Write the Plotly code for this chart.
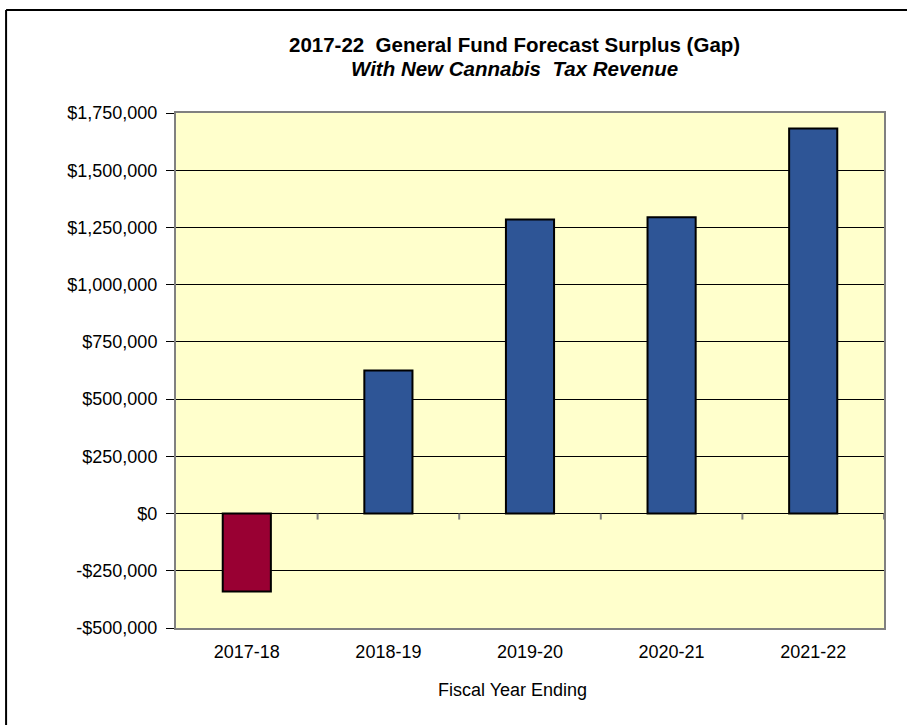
import plotly.graph_objects as go

# Fiscal years and forecast surplus (gap) in dollars
years = ["2017-18", "2018-19", "2019-20", "2020-21", "2021-22"]
surplus = [-341000, 625000, 1285000, 1294000, 1682000]

# Y-axis ticks
y_ticks = [-500000, -250000, 0, 250000, 500000, 750000, 1000000, 1250000, 1500000, 1750000]


def money(v):
    return ("-$" if v < 0 else "$") + f"{abs(v):,.0f}"


y_labels = [money(v) for v in y_ticks]

BLUE = "#2E5596"
RED = "#990033"
bar_colors = [RED if v < 0 else BLUE for v in surplus]

fig = go.Figure(
    go.Bar(
        x=years,
        y=surplus,
        width=0.34,
        marker=dict(color=bar_colors, line=dict(color="#000000", width=2)),
        hoverinfo="x+y",
    )
)

# Small tick marks on the zero line between categories
shapes = []
for i in range(len(years)):
    shapes.append(
        dict(
            type="line",
            xref="x",
            yref="y",
            x0=i + 0.5,
            x1=i + 0.5,
            ysizemode="pixel",
            yanchor=0,
            y0=0,
            y1=-6,
            line=dict(color="#808080", width=2),
        )
    )

# Outer chart frame (left and top edges)
shapes.append(dict(type="line", xref="paper", yref="paper",
                   x0=-0.240, x1=1.2, y0=1.2, y1=1.2,
                   line=dict(color="#000000", width=2)))
shapes.append(dict(type="line", xref="paper", yref="paper",
                   x0=-0.240, x1=-0.240, y0=1.2, y1=-0.3,
                   line=dict(color="#000000", width=2)))

FONT = "Liberation Sans, Arial, sans-serif"

fig.update_layout(
    width=907,
    height=725,
    margin=dict(l=176, r=23, t=113, b=97),
    paper_bgcolor="#FFFFFF",
    plot_bgcolor="#FFFFCC",
    font=dict(family=FONT, size=18, color="#000000"),
    showlegend=False,
    shapes=shapes,
    annotations=[
        dict(
            text="<b>2017-22  General Fund Forecast Surplus (Gap)</b>",
            xref="paper", yref="paper", x=0.5, y=1.0, xshift=-16, yshift=69,
            xanchor="center", yanchor="middle", showarrow=False,
            font=dict(size=20.5, color="#000000"),
        ),
        dict(
            text="<b><i>With New Cannabis  Tax Revenue</i></b>",
            xref="paper", yref="paper", x=0.5, y=1.0, xshift=-16, yshift=45,
            xanchor="center", yanchor="middle", showarrow=False,
            font=dict(size=20.5, color="#000000"),
        ),
        dict(
            text="Fiscal Year Ending",
            xref="paper", yref="paper", x=0.5, y=0, xshift=-18, yshift=-62,
            xanchor="center", yanchor="middle", showarrow=False,
            font=dict(size=18, color="#000000"),
        ),
    ],
    xaxis=dict(
        type="category",
        showgrid=False,
        showline=True,
        linecolor="#808080",
        linewidth=2,
        mirror=True,
        ticks="",
        ticklabelstandoff=6,
        tickfont=dict(size=18),
        zeroline=False,
        range=[-0.5, 4.5],
    ),
    yaxis=dict(
        range=[-500000, 1750000],
        tickvals=y_ticks,
        ticktext=y_labels,
        tickfont=dict(size=18),
        showgrid=True,
        gridcolor="#000000",
        gridwidth=1,
        zeroline=True,
        zerolinecolor="#000000",
        zerolinewidth=1,
        showline=True,
        linecolor="#808080",
        linewidth=2,
        mirror=True,
        ticks="outside",
        ticklen=8,
        tickcolor="#000000",
        tickwidth=1,
        ticklabelstandoff=5,
    ),
)

fig.write_html("out.html")
